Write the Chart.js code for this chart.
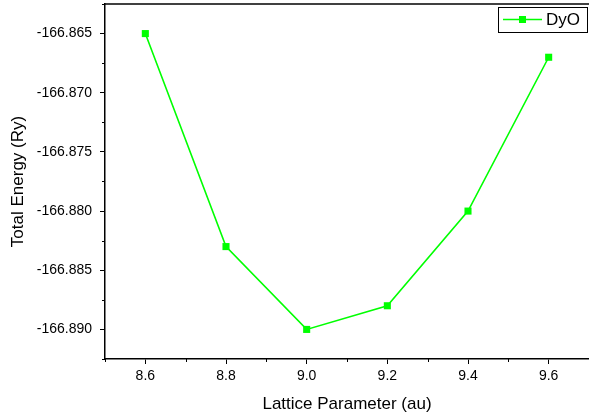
<!DOCTYPE html>
<html>
<head>
<meta charset="utf-8">
<script src="https://cdn.jsdelivr.net/npm/chart.js@4.4.0/dist/chart.umd.min.js"></script>
<style>
  html, body { margin: 0; padding: 0; background: #fff; overflow: hidden; }
  canvas { display: block; }
</style>
</head>
<body>
<canvas id="energyChart" width="589" height="418"></canvas>
<script>
// lattice parameter (au) vs total energy (Ry)
const latticeParams = [8.6, 8.8, 9.0, 9.2, 9.4, 9.6];
const totalEnergy = [-166.865, -166.883, -166.890, -166.888, -166.880, -166.867];

const xTickValues = [8.6, 8.8, 9.0, 9.2, 9.4, 9.6];
const xMinorTicks = [8.5, 8.7, 8.9, 9.1, 9.3, 9.5, 9.7];
const yTickValues = [-166.890, -166.885, -166.880, -166.875, -166.870, -166.865];
const yMinorTicks = [-166.8925, -166.8875, -166.8825, -166.8775, -166.8725, -166.8675, -166.8625];

const seriesName = "DyO";
const lineColor = "#00ff00";
const fontFamily = "'Liberation Sans', Arial, sans-serif";

// minor ticks, top frame line and the Origin style legend box
const framePlugin = {
    id: "frame",
    afterDraw(chart) {
        const ctx = chart.ctx;
        const area = chart.chartArea;
        const xs = chart.scales.x;
        const ys = chart.scales.y;
        ctx.save();
        ctx.strokeStyle = "#000";
        ctx.lineWidth = 1.5;
        ctx.beginPath();
        ctx.moveTo(area.left, area.top);
        ctx.lineTo(area.right, area.top);
        ctx.stroke();

        ctx.lineWidth = 1;
        ctx.beginPath();
        xMinorTicks.forEach(v => {
            const px = Math.round(xs.getPixelForValue(v)) + 0.5;
            ctx.moveTo(px, area.bottom);
            ctx.lineTo(px, area.bottom + 3);
        });
        yMinorTicks.forEach(v => {
            const py = Math.round(ys.getPixelForValue(v)) + 0.5;
            ctx.moveTo(area.left, py);
            ctx.lineTo(area.left - 3, py);
        });
        ctx.stroke();

        // legend
        const ds = chart.data.datasets[0];
        ctx.lineWidth = 1;
        ctx.strokeStyle = "#000";
        ctx.strokeRect(498.5, 7.5, 89, 25);
        ctx.strokeStyle = ds.borderColor;
        ctx.lineWidth = 1.6;
        ctx.beginPath();
        ctx.moveTo(503, 19.5);
        ctx.lineTo(542, 19.5);
        ctx.stroke();
        ctx.fillStyle = ds.backgroundColor;
        ctx.fillRect(519, 16, 7, 7);
        ctx.fillStyle = "#000";
        ctx.font = "17px " + fontFamily;
        ctx.textBaseline = "middle";
        ctx.textAlign = "left";
        ctx.fillText(ds.label, 546, 20);
        ctx.restore();
    }
};

const points = latticeParams.map((x, i) => ({ x: x, y: totalEnergy[i] }));

new Chart(document.getElementById("energyChart"), {
    type: "line",
    data: {
        datasets: [{
            label: seriesName,
            data: points,
            borderColor: lineColor,
            backgroundColor: lineColor,
            borderWidth: 1.6,
            pointStyle: "rect",
            pointRadius: 5,
            pointBorderWidth: 0,
            tension: 0
        }]
    },
    options: {
        responsive: false,
        animation: false,
        layout: { autoPadding: false, padding: { top: 4, right: 0, left: 0, bottom: 0 } },
        plugins: {
            legend: { display: false },
            tooltip: { enabled: false }
        },
        scales: {
            x: {
                type: "linear",
                min: 8.5,
                max: 9.7,
                afterBuildTicks: scale => { scale.ticks = xTickValues.map(v => ({ value: v })); },
                afterFit: scale => {
                    scale.height = 59;
                    scale.paddingLeft = 0;
                    scale.paddingRight = 0;
                },
                ticks: {
                    color: "#000",
                    font: { family: fontFamily, size: 14 },
                    padding: 4,
                    maxRotation: 0,
                    callback: v => v.toFixed(1)
                },
                grid: { display: true, drawOnChartArea: false, tickLength: 5, tickColor: "#000", tickWidth: 1 },
                border: { display: true, color: "#000", width: 1.5 },
                title: {
                    display: true,
                    text: "Lattice Parameter (au)",
                    color: "#000",
                    font: { family: fontFamily, size: 17 },
                    padding: { top: 0, bottom: 3 }
                }
            },
            y: {
                type: "linear",
                min: -166.8925,
                max: -166.8625,
                afterBuildTicks: scale => { scale.ticks = yTickValues.map(v => ({ value: v })); },
                afterFit: scale => {
                    scale.width = 105;
                    scale.paddingTop = 0;
                    scale.paddingBottom = 0;
                },
                ticks: {
                    color: "#000",
                    font: { family: fontFamily, size: 14 },
                    padding: 8,
                    callback: v => v.toFixed(3)
                },
                grid: { display: true, drawOnChartArea: false, tickLength: 5, tickColor: "#000", tickWidth: 1 },
                border: { display: true, color: "#000", width: 1.5 },
                title: {
                    display: true,
                    text: "Total Energy (Ry)",
                    color: "#000",
                    font: { family: fontFamily, size: 17 },
                    padding: { top: 8, bottom: 0 }
                }
            }
        }
    },
    plugins: [framePlugin]
});
</script>
</body>
</html>
